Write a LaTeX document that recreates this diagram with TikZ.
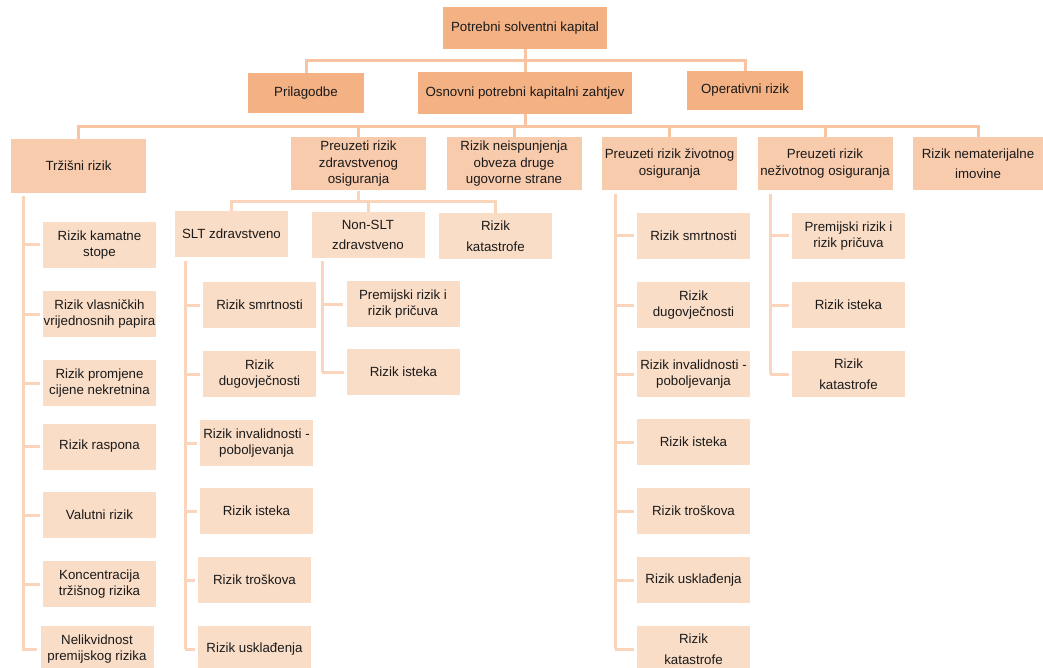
\documentclass[tikz,border=0pt]{standalone}
\usepackage{fontspec}
\setmainfont{Liberation Sans}
\definecolor{lvA}{HTML}{F4B183}
\definecolor{lvB}{HTML}{F8CBAD}
\definecolor{lvC}{HTML}{FADDC7}
\definecolor{lnA}{HTML}{F8C4A2}
\definecolor{lnB}{HTML}{FAD4BB}
\definecolor{txt}{HTML}{1A1A1A}
\begin{document}
\begin{tikzpicture}[x=1pt,y=-1pt,
  base/.style={rectangle, inner xsep=0pt, inner ysep=1pt, align=center, text=txt,
    font=\fontsize{13.3}{16.5}\selectfont},
  boxA/.style={base, fill=lvA},
  boxB/.style={base, fill=lvB, minimum width=135, minimum height=53},
  boxC/.style={base, fill=lvC, minimum width=113, minimum height=46},
  connA/.style={draw=lnA, line width=3pt},
  connB/.style={draw=lnB, line width=3pt},
  stub/.style={connB, shorten >=3pt}]
\useasboundingbox (0,0) rectangle (1043,668);

% level 0 and 1
\node[boxA, minimum width=164, minimum height=42] (top) at (525,28) {Potrebni solventni kapital};
\node[boxA, minimum width=116, minimum height=40] (pri) at (306,93) {Prilagodbe};
\node[boxA, minimum width=214, minimum height=42] (osn) at (525,93) {Osnovni potrebni kapitalni zahtjev};
\node[boxA, minimum width=116, minimum height=39] (ope) at (745,90.5) {Operativni rizik};

% level 2
\node[boxB, minimum height=54] (trz) at (78.5,166) {Tržišni rizik};
\node[boxB] (pzd) at (358.5,164) {Preuzeti rizik\\zdravstvenog\\osiguranja};
\node[boxB] (neis) at (514,164) {Rizik neispunjenja\\obveza druge\\ugovorne strane};
\node[boxB] (ziv) at (669.5,163.5) {Preuzeti rizik životnog\\osiguranja};
\node[boxB] (nezv) at (825,163.5) {Preuzeti rizik\\neživotnog osiguranja};
\node[boxB, minimum width=130] (nem) at (978,163.5) {Rizik nematerijalne\\[4pt]imovine};

% level 3 (health)
\node[boxC] (slt) at (231.5,234) {SLT zdravstveno};
\node[boxC] (nslt) at (368,235) {Non-SLT\\[4pt]zdravstveno};
\node[boxC] (kat) at (495.5,236) {Rizik\\[4pt]katastrofe};

% market risk leaves
\node[boxC] (t1) at (99.5,245) {Rizik kamatne\\stope};
\node[boxC] (t2) at (99.5,314) {Rizik vlasničkih\\vrijednosnih papira};
\node[boxC] (t3) at (99.5,383) {Rizik promjene\\cijene nekretnina};
\node[boxC] (t4) at (99.5,446.5) {Rizik raspona};
\node[boxC] (t5) at (99.5,515) {Valutni rizik};
\node[boxC] (t6) at (99.5,584) {Koncentracija\\tržišnog rizika};
\node[boxC] (t7) at (97,649) {Nelikvidnost\\premijskog rizika};

% SLT leaves
\node[boxC] (s1) at (259.5,305) {Rizik smrtnosti};
\node[boxC] (s2) at (259.5,374) {Rizik\\dugovječnosti};
\node[boxC] (s3) at (256.5,443) {Rizik invalidnosti -\\poboljevanja};
\node[boxC] (s4) at (256.5,511) {Rizik isteka};
\node[boxC] (s5) at (254.5,580) {Rizik troškova};
\node[boxC] (s6) at (254.5,649) {Rizik usklađenja};

% Non-SLT leaves
\node[boxC] (n1) at (403,304) {Premijski rizik i\\rizik pričuva};
\node[boxC] (n2) at (403.5,372) {Rizik isteka};

% life leaves
\node[boxC] (z1) at (693.5,236) {Rizik smrtnosti};
\node[boxC] (z2) at (693.5,305) {Rizik\\dugovječnosti};
\node[boxC] (z3) at (693.5,374) {Rizik invalidnosti -\\poboljevanja};
\node[boxC] (z4) at (693.5,442) {Rizik isteka};
\node[boxC] (z5) at (693.5,511) {Rizik troškova};
\node[boxC] (z6) at (693.5,580) {Rizik usklađenja};
\node[boxC] (z7) at (693.5,649) {Rizik\\[4pt]katastrofe};

% non-life leaves
\node[boxC] (e1) at (848.5,236) {Premijski rizik i\\rizik pričuva};
\node[boxC] (e2) at (848.5,305) {Rizik isteka};
\node[boxC] (e3) at (848.5,374) {Rizik\\[4pt]katastrofe};

% bus coordinates
\coordinate (b1) at (0,61);
\coordinate (b2) at (0,127);
\coordinate (b3) at (0,202);
\coordinate (tv) at (23,196);
\coordinate (sv) at (185,261);
\coordinate (nv) at (322,261);
\coordinate (zv) at (615,194);
\coordinate (ev) at (770,194);

% level 0 -> 1
\draw[connA] (top.south) -- (osn.north);
\draw[connA] (pri.north) -- (pri.north |- b1) -- (ope.north |- b1) -- (ope.north);

% level 1 -> 2
\draw[connA] (osn.south) -- (osn.south |- b2);
\draw[connA] (trz.north) -- (trz.north |- b2) -- (nem.north |- b2) -- (nem.north);
\foreach \n in {pzd,neis,ziv,nezv} \draw[connA] (\n.north |- b2) -- (\n.north);

% health -> level 3
\draw[connB] (pzd.south) -- (pzd.south |- b3);
\draw[connB] (slt.north) -- (slt.north |- b3) -- (kat.north |- b3) -- (kat.north);
\draw[connB] (nslt.north |- b3) -- (nslt.north);

% vertical trees
\draw[connB] (tv) -- (tv |- t7.west) -- ++(12,0);
\foreach \n in {t1,t2,t3,t4,t5,t6,t7} \draw[stub] (tv |- \n.west) -- (\n.west);
\draw[connB] (sv) -- (sv |- s6.west);
\foreach \n in {s1,s2,s3,s4,s5,s6} \draw[stub] (sv |- \n.west) -- (\n.west);
\draw[connB] (nv) -- (nv |- n2.west);
\foreach \n in {n1,n2} \draw[stub] (nv |- \n.west) -- (\n.west);
\draw[connB] (zv) -- (zv |- z7.west);
\foreach \n in {z1,z2,z3,z4,z5,z6,z7} \draw[stub] (zv |- \n.west) -- (\n.west);
\draw[connB] (ev) -- (ev |- e3.west);
\foreach \n in {e1,e2,e3} \draw[stub] (ev |- \n.west) -- (\n.west);
\end{tikzpicture}
\end{document}
